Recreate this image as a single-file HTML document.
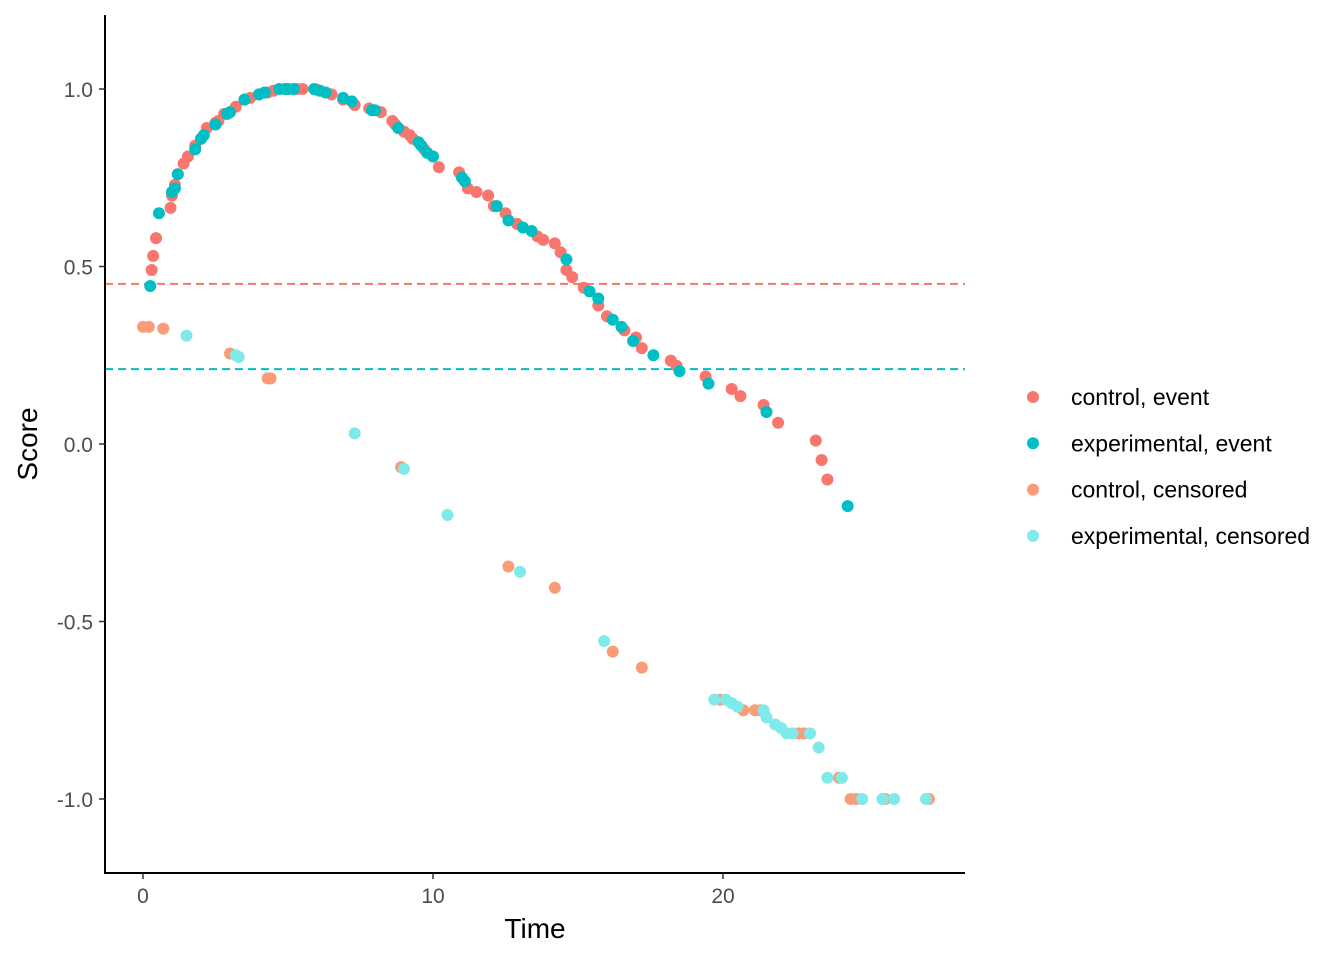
<!DOCTYPE html>
<html><head><meta charset="utf-8"><style>
body{margin:0;background:#fff;}
svg text{font-family:"Liberation Sans",Arial,sans-serif;}
</style></head><body>
<svg id="chart" width="1344" height="960" xmlns="http://www.w3.org/2000/svg">
<rect width="1344" height="960" fill="#fff"/>
<g id="plot"></g>
<g id="axes"></g>
<g id="legend"></g>
</svg>
<script>
const xTicks=[0,10,20];
const yTicks=[1.0,0.5,0.0,-0.5,-1.0];
const yTickLabels=["1.0","0.5","0.0","-0.5","-1.0"];
const hlineValues=[0.451,0.211];
const seriesNames=["control, event","experimental, event","control, censored","experimental, censored"];
const seriesColors=["#F8766D","#00BFC4","#FA9C78","#7FEAE9"];
const controlEventX=[0.3,0.35,0.45,0.95,1.0,1.1,1.2,1.4,1.55,1.8,2.0,2.2,2.5,2.6,2.8,3.2,3.5,3.7,4.0,4.3,4.5,5.0,5.3,5.5,6.0,6.5,6.9,7.3,7.8,8.2,8.6,8.7,9.0,9.2,9.3,9.7,10.2,10.9,11.2,11.5,11.9,12.1,12.5,12.9,13.6,13.8,14.2,14.4,14.6,14.8,15.2,15.7,16.0,16.6,17.0,17.2,18.2,18.4,19.4,20.3,20.6,21.4,21.9,23.2,23.4,23.6];
const controlEventY=[0.49,0.53,0.58,0.665,0.7,0.73,0.76,0.79,0.81,0.84,0.86,0.89,0.905,0.91,0.93,0.95,0.97,0.975,0.985,0.99,0.995,1.0,1.0,1.0,0.998,0.985,0.97,0.955,0.945,0.935,0.91,0.9,0.88,0.87,0.86,0.83,0.78,0.765,0.72,0.71,0.7,0.67,0.65,0.62,0.585,0.575,0.565,0.54,0.49,0.47,0.44,0.39,0.36,0.32,0.3,0.27,0.235,0.22,0.19,0.155,0.135,0.11,0.06,0.01,-0.045,-0.1];
const expEventX=[0.25,0.55,1.0,1.1,1.2,1.8,2.0,2.1,2.5,2.9,3.0,3.5,4.0,4.2,4.7,4.9,5.0,5.2,5.9,6.1,6.3,6.9,7.2,7.9,8.0,8.8,9.5,9.6,9.8,10.0,11.0,11.1,12.2,12.6,13.1,13.4,14.6,15.4,15.7,16.2,16.5,16.9,17.6,18.5,19.5,21.5,24.3];
const expEventY=[0.445,0.65,0.71,0.72,0.76,0.83,0.86,0.87,0.9,0.93,0.935,0.97,0.985,0.99,1.0,1.0,1.0,1.0,1.0,0.995,0.99,0.975,0.965,0.94,0.94,0.89,0.85,0.84,0.82,0.81,0.75,0.74,0.67,0.63,0.61,0.6,0.52,0.43,0.41,0.35,0.33,0.29,0.25,0.205,0.17,0.09,-0.175];
const controlCensX=[0.0,0.2,0.7,3.0,4.3,4.4,8.9,12.6,14.2,16.2,17.2,19.9,20.7,21.1,21.3,22.6,22.8,24.0,24.4,24.6,25.6,27.1];
const controlCensY=[0.33,0.33,0.325,0.255,0.185,0.185,-0.065,-0.345,-0.405,-0.585,-0.63,-0.72,-0.75,-0.75,-0.75,-0.815,-0.815,-0.94,-1.0,-1.0,-1.0,-1.0];
const expCensX=[1.5,3.2,3.3,7.3,9.0,10.5,13.0,15.9,19.7,20.1,20.3,20.5,21.4,21.5,21.8,22.0,22.2,22.4,23.0,23.3,23.6,24.1,24.8,25.5,25.9,27.0];
const expCensY=[0.305,0.25,0.245,0.03,-0.07,-0.2,-0.36,-0.555,-0.72,-0.72,-0.73,-0.74,-0.75,-0.77,-0.79,-0.8,-0.815,-0.815,-0.815,-0.855,-0.94,-0.94,-1.0,-1.0,-1.0,-1.0];

const NS="http://www.w3.org/2000/svg";
const xS=v=>143+v*29;
const yS=v=>444-v*355;
function mk(tag,parent,attrs){const e=document.createElementNS(NS,tag);for(const k in attrs)e.setAttribute(k,attrs[k]);parent.appendChild(e);return e;}
const plot=document.getElementById('plot'),axes=document.getElementById('axes'),legend=document.getElementById('legend');
hlineValues.forEach((v,i)=>{const l=mk('line',plot,{x1:105,x2:965,y1:yS(v),y2:yS(v),stroke:seriesColors[i],'stroke-width':2,'stroke-dasharray':'8,5'});

});
const series=[[controlCensX,controlCensY,2],[expCensX,expCensY,3],[controlEventX,controlEventY,0],[expEventX,expEventY,1]];
series.forEach(([xs,ys,ci])=>{xs.forEach((x,j)=>{const c=mk('circle',plot,{cx:xS(x),cy:yS(ys[j]),r:6,fill:seriesColors[ci]});

});});
const ya=mk('line',axes,{x1:105,x2:105,y1:15,y2:874,stroke:'#000','stroke-width':2});

const xa=mk('line',axes,{x1:104,x2:965,y1:873,y2:873,stroke:'#000','stroke-width':2});

yTicks.forEach((v,i)=>{mk('line',axes,{x1:99,x2:105,y1:yS(v),y2:yS(v),stroke:'#333','stroke-width':1.5});
const t=mk('text',axes,{x:93,y:yS(v)+8,'text-anchor':'end','font-size':21,fill:'#4d4d4d'});t.textContent=yTickLabels[i];
});
xTicks.forEach(v=>{mk('line',axes,{x1:xS(v),x2:xS(v),y1:873,y2:879,stroke:'#333','stroke-width':1.5});
const t=mk('text',axes,{x:xS(v),y:903,'text-anchor':'middle','font-size':21,fill:'#4d4d4d'});t.textContent=v;
});
const xt=mk('text',axes,{x:535,y:938,'text-anchor':'middle','font-size':28,fill:'#000'});xt.textContent='Time';

const yt=mk('text',axes,{x:0,y:0,'text-anchor':'middle','font-size':28,fill:'#000',transform:'translate(37,444) rotate(-90)'});yt.textContent='Score';

seriesNames.forEach((n,i)=>{const y=397+i*46.3;
const g=mk('g',legend,{});

mk('circle',g,{cx:1033,cy:y,r:6,fill:seriesColors[i]});
const t=mk('text',g,{x:1071,y:y+8,'font-size':23,fill:'#000'});t.textContent=n;});
</script>
</body></html>
